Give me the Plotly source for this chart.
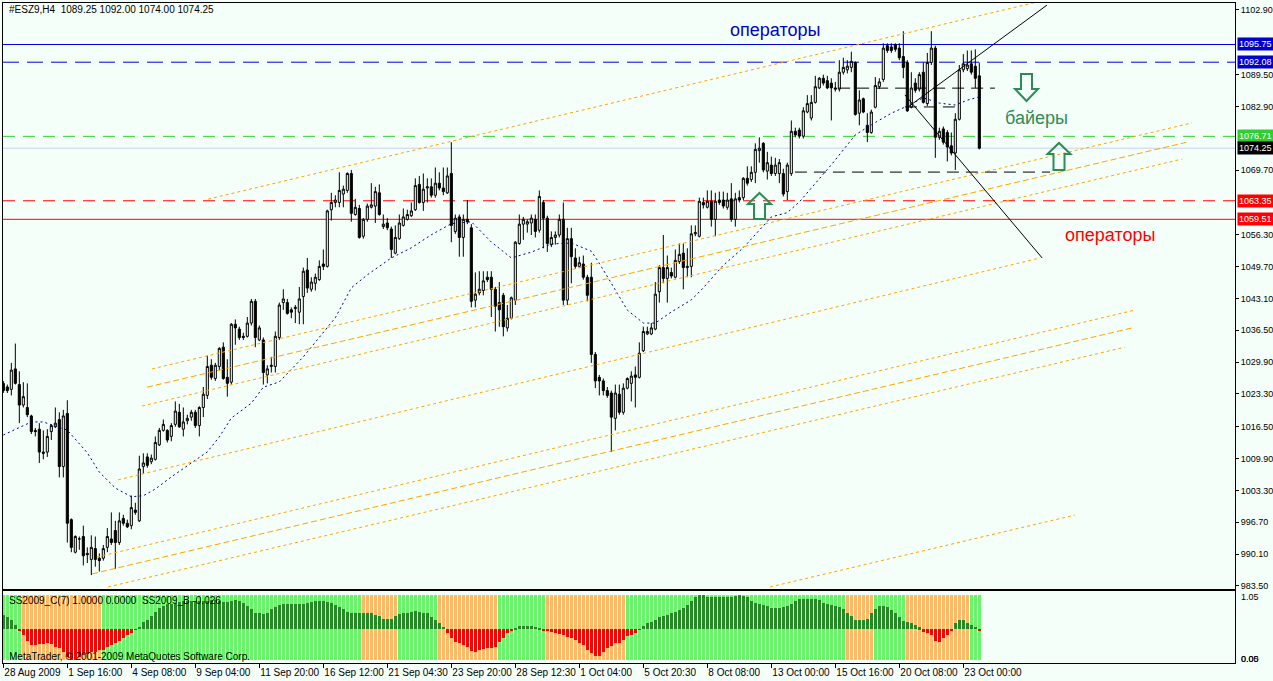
import plotly.graph_objects as go

# --- page geometry (px) used only to place frames, labels and glyphs ---
W, H = 1273, 681
L_PX, R_PX = 3, 1235
T_PX, B_PX = 3, 664
MAIN_BOTTOM_PX = 589
IND_TOP_PX, IND_BOTTOM_PX = 591, 663

BG = '#F5FFFA'
FONT = 'Liberation Sans'


def px_x(px):
    return (px - L_PX) / (R_PX - L_PX)


def px_y(py):
    return (B_PX - py) / (B_PX - T_PX)


# --- price data, #ESZ9 H4, bar 0 = 28 Aug 2009 ---
opens = [
    1025.5, 1024.75, 1024.25, 1028.5, 1025.25, 1021.0, 1020.5, 1018.75, 1015.75, 1016.0,
    1011.25, 1011.25, 1015.5, 1016.5, 1018.0, 1008.25, 1019.25, 997.25, 990.5, 993.25,
    993.75, 990.25, 989.0, 991.25, 989.25, 989.25, 991.5, 993.25, 995.0, 992.5,
    997.5, 996.5, 996.0, 999.25, 997.0, 1008.25, 1010.25, 1009.25, 1009.75, 1012.75,
    1015.75, 1015.75, 1014.5, 1017.0, 1019.5, 1016.0, 1017.75, 1018.5, 1019.5, 1016.75,
    1020.5, 1023.0, 1029.25, 1026.5, 1029.0, 1033.0, 1026.75, 1025.75, 1037.75, 1036.75,
    1035.25, 1035.25, 1038.0, 1042.5, 1034.5, 1034.5, 1027.25, 1029.0, 1029.0, 1035.0,
    1042.25, 1042.25, 1040.75, 1041.0, 1040.25, 1043.5, 1049.0, 1045.0, 1046.25, 1047.0,
    1050.25, 1049.75, 1061.5, 1063.0, 1063.0, 1064.75, 1065.5, 1069.0, 1060.5, 1061.75,
    1056.0, 1059.5, 1062.0, 1062.25, 1065.0, 1058.0, 1058.75, 1057.5, 1052.5, 1055.5,
    1058.25, 1059.5, 1060.25, 1061.5, 1066.75, 1063.0, 1066.0, 1066.25, 1064.5, 1067.0,
    1066.0, 1065.0, 1069.0, 1057.0, 1060.0, 1055.75, 1059.5, 1057.75, 1042.75, 1044.25,
    1044.75, 1047.5, 1047.5, 1045.0, 1042.25, 1043.75, 1037.0, 1039.0, 1042.75, 1054.5,
    1058.5, 1058.5, 1058.75, 1059.5, 1057.25, 1063.0, 1059.75, 1054.25, 1055.75, 1056.25,
    1059.5, 1042.75, 1055.5, 1051.5, 1049.75, 1050.25, 1047.5, 1047.5, 1031.5, 1026.75,
    1026.0, 1024.0, 1023.5, 1018.25, 1023.25, 1019.5, 1024.5, 1025.5, 1027.25, 1026.75,
    1032.25, 1035.75, 1035.75, 1036.75, 1044.5, 1049.5, 1047.25, 1048.5, 1047.5, 1050.75,
    1052.5, 1049.5, 1049.75, 1056.5, 1056.0, 1063.0, 1062.0, 1063.25, 1059.5, 1063.5,
    1063.5, 1062.0, 1063.75, 1059.5, 1064.0, 1064.0, 1068.0, 1067.75, 1069.25, 1073.75,
    1075.25, 1069.5, 1070.75, 1069.0, 1069.0, 1069.0, 1065.25, 1069.0, 1077.75, 1078.0,
    1076.75, 1081.75, 1080.5, 1083.75, 1086.75, 1088.75, 1088.25, 1087.75, 1086.75, 1086.5,
    1090.0, 1090.5, 1091.0, 1092.0, 1081.5, 1084.5, 1079.0, 1077.5, 1082.75, 1087.0,
    1088.5, 1095.5, 1095.25, 1095.75, 1095.0, 1093.25, 1092.0, 1082.75, 1087.75, 1086.5,
    1090.0, 1083.5, 1092.0, 1095.0, 1076.5, 1078.25, 1077.5, 1074.75, 1073.25, 1080.25,
    1090.5, 1090.75, 1091.75, 1091.25, 1089.25,
]
highs = [
    1026.0, 1025.25, 1029.75, 1033.75, 1028.0, 1025.75, 1025.5, 1019.0, 1016.25, 1017.25,
    1015.75, 1016.0, 1017.0, 1020.5, 1019.5, 1020.0, 1022.0, 997.5, 994.0, 993.75,
    996.0, 991.5, 994.0, 993.75, 990.25, 992.0, 995.5, 998.75, 997.0, 998.75,
    998.25, 997.25, 1002.25, 1000.75, 1010.5, 1011.0, 1011.0, 1010.75, 1014.5, 1016.25,
    1018.0, 1016.0, 1017.25, 1021.75, 1021.25, 1020.5, 1019.0, 1020.0, 1020.0, 1020.75,
    1024.75, 1031.25, 1030.5, 1029.75, 1033.0, 1034.0, 1030.5, 1038.0, 1038.75, 1037.25,
    1036.0, 1039.25, 1043.0, 1043.0, 1037.5, 1035.0, 1029.25, 1031.0, 1036.25, 1042.25,
    1045.0, 1043.0, 1041.25, 1041.75, 1045.5, 1049.5, 1051.5, 1047.5, 1048.25, 1051.0,
    1053.25, 1061.5, 1065.0, 1064.5, 1069.25, 1066.5, 1069.25, 1069.75, 1063.75, 1062.5,
    1059.75, 1062.75, 1067.0, 1066.25, 1066.75, 1060.5, 1059.75, 1058.0, 1058.25, 1060.5,
    1061.75, 1061.5, 1063.0, 1068.0, 1068.5, 1069.0, 1068.0, 1068.0, 1070.25, 1069.25,
    1070.25, 1070.25, 1075.5, 1060.5, 1060.5, 1060.5, 1063.5, 1058.5, 1048.5, 1048.75,
    1048.75, 1048.75, 1048.75, 1045.5, 1046.5, 1044.25, 1041.75, 1043.5, 1055.0, 1060.5,
    1060.0, 1059.5, 1060.5, 1060.5, 1065.5, 1063.5, 1060.25, 1057.0, 1057.0, 1060.5,
    1063.0, 1057.75, 1057.75, 1053.5, 1051.75, 1052.0, 1048.0, 1050.5, 1032.0, 1027.25,
    1026.5, 1024.75, 1024.0, 1025.25, 1025.25, 1025.5, 1026.75, 1028.0, 1029.0, 1034.0,
    1037.25, 1037.25, 1038.0, 1046.5, 1050.0, 1056.25, 1052.0, 1049.5, 1053.25, 1054.5,
    1054.5, 1053.5, 1058.25, 1058.25, 1064.0, 1064.0, 1065.5, 1065.5, 1065.0, 1065.25,
    1065.25, 1065.0, 1067.0, 1065.0, 1065.5, 1068.25, 1070.5, 1070.5, 1075.25, 1076.5,
    1075.5, 1073.5, 1072.5, 1072.25, 1072.0, 1070.0, 1071.25, 1080.0, 1078.5, 1078.5,
    1082.75, 1085.25, 1085.25, 1089.25, 1089.0, 1089.5, 1089.25, 1088.75, 1088.0, 1092.5,
    1093.0, 1092.5, 1094.25, 1092.25, 1086.25, 1084.75, 1081.5, 1082.25, 1089.0, 1088.75,
    1096.0, 1096.0, 1096.0, 1096.0, 1096.0, 1098.5, 1092.5, 1090.0, 1088.75, 1090.0,
    1092.0, 1094.0, 1098.5, 1095.5, 1078.5, 1078.75, 1078.0, 1077.5, 1081.5, 1091.5,
    1093.75, 1094.5, 1094.5, 1094.75, 1092.0,
]
lows = [
    1023.5, 1023.5, 1023.0, 1025.25, 1017.25, 1020.5, 1018.5, 1015.0, 1014.5, 1009.0,
    1009.75, 1010.25, 1013.75, 1016.25, 1006.0, 1006.0, 992.5, 990.5, 990.25, 991.0,
    987.75, 988.25, 985.75, 987.5, 986.5, 988.75, 990.5, 992.0, 987.0, 992.0,
    996.0, 995.5, 995.25, 998.25, 996.75, 1006.75, 1008.0, 1008.75, 1009.5, 1012.5,
    1015.5, 1013.25, 1013.5, 1016.5, 1016.25, 1014.5, 1017.0, 1017.75, 1016.25, 1014.5,
    1018.5, 1022.25, 1026.25, 1026.0, 1028.25, 1026.25, 1022.75, 1025.25, 1033.5, 1034.5,
    1034.5, 1035.0, 1037.5, 1033.0, 1034.25, 1025.25, 1025.5, 1027.75, 1027.75, 1034.5,
    1040.75, 1039.75, 1039.0, 1038.0, 1037.75, 1037.75, 1044.25, 1044.5, 1044.75, 1046.75,
    1049.0, 1049.5, 1059.25, 1062.0, 1062.0, 1062.0, 1065.0, 1059.0, 1060.25, 1055.5,
    1055.5, 1059.0, 1061.75, 1058.75, 1060.25, 1057.5, 1057.25, 1051.5, 1052.25, 1055.25,
    1058.0, 1059.25, 1060.0, 1061.25, 1062.75, 1061.25, 1063.0, 1064.0, 1064.0, 1065.5,
    1064.5, 1064.75, 1054.75, 1056.5, 1051.75, 1051.75, 1058.5, 1041.25, 1041.25, 1043.75,
    1043.75, 1046.5, 1039.25, 1036.25, 1037.25, 1035.25, 1036.25, 1038.75, 1041.75, 1054.25,
    1055.25, 1056.75, 1056.25, 1055.75, 1056.75, 1053.5, 1052.75, 1053.75, 1054.25, 1055.75,
    1041.75, 1041.75, 1046.25, 1049.25, 1049.5, 1047.0, 1042.5, 1029.75, 1024.5, 1023.0,
    1023.0, 1022.5, 1011.25, 1015.75, 1019.0, 1019.0, 1024.25, 1021.75, 1020.5, 1026.5,
    1032.0, 1035.5, 1035.5, 1036.5, 1042.25, 1046.25, 1042.25, 1047.25, 1047.25, 1050.25,
    1045.0, 1047.5, 1047.5, 1056.0, 1055.75, 1061.75, 1061.75, 1058.0, 1056.0, 1062.5,
    1061.75, 1061.5, 1059.0, 1058.0, 1063.0, 1063.5, 1066.5, 1067.25, 1067.0, 1071.25,
    1069.25, 1067.75, 1068.5, 1068.5, 1067.0, 1064.25, 1063.5, 1068.5, 1076.5, 1076.25,
    1076.25, 1081.5, 1080.0, 1083.5, 1086.5, 1087.25, 1086.5, 1080.0, 1086.0, 1086.0,
    1089.5, 1089.75, 1090.0, 1081.0, 1079.0, 1081.5, 1075.5, 1077.25, 1082.5, 1086.5,
    1088.0, 1094.0, 1094.0, 1094.25, 1092.5, 1088.75, 1081.75, 1082.5, 1085.75, 1086.0,
    1083.5, 1083.0, 1091.5, 1072.25, 1076.0, 1075.0, 1071.5, 1072.75, 1069.75, 1080.0,
    1090.0, 1090.25, 1089.5, 1086.75, 1074.0,
]
closes = [
    1024.0, 1024.0, 1028.25, 1025.5, 1021.0, 1022.75, 1019.0, 1015.5, 1015.5, 1011.25,
    1011.0, 1014.5, 1016.75, 1017.25, 1008.25, 1018.75, 996.5, 991.5, 993.75, 993.25,
    989.75, 990.0, 991.5, 989.0, 988.75, 991.25, 993.75, 992.5, 992.5, 997.0,
    996.5, 995.75, 999.75, 998.75, 1007.75, 1009.0, 1008.5, 1010.0, 1013.25, 1015.75,
    1017.0, 1013.75, 1016.75, 1019.75, 1016.5, 1017.5, 1018.25, 1019.5, 1016.75, 1020.5,
    1023.25, 1029.0, 1026.75, 1029.25, 1032.75, 1026.5, 1025.5, 1037.75, 1037.0, 1035.0,
    1035.0, 1038.0, 1042.5, 1035.0, 1037.0, 1027.75, 1028.5, 1029.25, 1035.25, 1041.75,
    1043.0, 1040.0, 1040.25, 1041.25, 1043.0, 1048.75, 1045.25, 1046.5, 1047.5, 1049.75,
    1049.75, 1061.25, 1063.0, 1063.5, 1065.5, 1065.75, 1069.0, 1060.75, 1062.0, 1055.75,
    1059.5, 1062.25, 1062.5, 1065.25, 1060.5, 1058.5, 1057.75, 1053.25, 1055.75, 1058.75,
    1060.0, 1060.5, 1061.25, 1066.5, 1063.0, 1065.75, 1066.25, 1064.5, 1067.0, 1066.0,
    1065.25, 1068.5, 1058.25, 1059.75, 1055.75, 1059.5, 1059.0, 1042.5, 1044.0, 1045.0,
    1046.75, 1047.0, 1045.0, 1041.5, 1040.75, 1037.25, 1039.0, 1043.25, 1054.75, 1058.5,
    1059.5, 1059.0, 1059.75, 1057.0, 1064.25, 1059.75, 1054.5, 1055.75, 1056.25, 1059.5,
    1042.75, 1055.5, 1051.75, 1049.75, 1050.5, 1047.5, 1043.75, 1031.5, 1026.0, 1026.0,
    1024.0, 1023.0, 1018.5, 1023.5, 1019.5, 1024.5, 1026.5, 1027.0, 1026.75, 1031.75,
    1036.25, 1036.25, 1037.0, 1044.0, 1049.5, 1047.25, 1049.5, 1047.75, 1051.0, 1052.25,
    1049.5, 1049.75, 1056.5, 1056.75, 1063.25, 1062.5, 1063.25, 1059.5, 1063.25, 1063.0,
    1062.25, 1063.5, 1059.5, 1063.75, 1063.5, 1068.0, 1067.0, 1069.25, 1074.0, 1074.25,
    1069.75, 1071.25, 1069.0, 1070.75, 1071.25, 1064.75, 1070.75, 1077.75, 1077.0, 1076.75,
    1082.0, 1083.5, 1083.75, 1087.0, 1088.75, 1087.75, 1086.75, 1086.75, 1086.5, 1090.0,
    1091.0, 1091.25, 1092.25, 1081.25, 1084.25, 1081.75, 1077.5, 1081.75, 1087.25, 1088.0,
    1095.0, 1094.5, 1094.5, 1094.75, 1093.0, 1091.0, 1082.0, 1086.75, 1086.25, 1089.5,
    1083.75, 1092.0, 1095.0, 1076.5, 1077.75, 1075.5, 1074.5, 1073.25, 1080.25, 1090.5,
    1091.75, 1091.5, 1090.0, 1088.75, 1074.25,
]
bars = list(range(len(closes)))

# dotted moving average (bar index, price)
ma_bars = [0, 7, 10, 16, 21, 24, 28, 32, 35, 38, 42, 47, 51, 54, 57, 62, 65, 69, 75, 83,
           87, 91, 97, 102, 107, 112, 117, 122, 127, 132, 137, 142, 147, 149, 153, 156, 160,
           163, 167, 172, 175, 180, 185, 189, 192, 196, 199, 207, 213, 217, 222, 226, 230,
           234, 238, 241, 244]
ma_vals = [1014.8, 1017.5, 1017.5, 1015.8, 1011.1, 1007.1, 1003.8, 1002.0, 1002.2, 1003.6,
           1006.1, 1009.0, 1011.3, 1014.4, 1018.3, 1021.4, 1024.7, 1025.8, 1031.0, 1039.1,
           1045.3, 1048.0, 1051.5, 1053.6, 1056.3, 1058.6, 1059.0, 1054.8, 1051.5, 1052.7,
           1054.4, 1054.6, 1052.9, 1050.4, 1044.9, 1040.7, 1038.0, 1038.0, 1040.3, 1042.8,
           1045.3, 1050.0, 1053.6, 1057.3, 1060.0, 1060.9, 1063.1, 1070.8, 1077.0, 1079.1,
           1081.5, 1083.0, 1084.7, 1083.6, 1083.2, 1084.2, 1084.9]

# orange channel lines: start/end (bar index, price)
chan_bar0 = [51.2, 37.2, 35.9, 34.7, 28.7, 22.2, 23.4, 26.2, 191.7]
chan_price0 = [1063.7, 1028.5, 1024.7, 1020.8, 1005.5, 986.0, 989.5, 983.3, 983.3]
chan_bar1 = [259.2, 297.2, 295.9, 294.7, 259.2, 282.2, 282.9, 280.4, 267.9]
chan_price1 = [1104.7, 1079.5, 1075.5, 1072.0, 1051.5, 1037.0, 1040.7, 1033.0, 998.2]

# black trend lines
trend_bar0 = [226.2, 225.4]
trend_price0 = [1082.8, 1085.3]
trend_bar1 = [260.9, 259.7]
trend_price1 = [1103.9, 1051.5]

# short black dashed levels
seg_price = [1086.7, 1069.3, 1082.8]
seg_bar0 = [208.7, 197.9, 225.4]
seg_bar1 = [247.9, 261.7, 238.0]

# full width levels
level_prices = [1095.75, 1092.08, 1076.71, 1074.25, 1063.35, 1059.51]

price_ticks = [1102.90, 1089.50, 1082.90, 1069.70, 1056.30, 1049.70, 1043.10, 1036.50,
               1029.90, 1023.30, 1016.50, 1009.90, 1003.30, 996.70, 990.10, 983.50]

time_tick_bars = [0, 16, 32, 48, 64, 80, 96, 112, 128, 144, 160, 176, 192, 208, 224, 240]
time_tick_labels = ['28 Aug 2009', '1 Sep 16:00', '4 Sep 08:00', '9 Sep 04:00',
                    '11 Sep 20:00', '16 Sep 12:00', '21 Sep 04:30', '23 Sep 20:00',
                    '28 Sep 12:30', '1 Oct 04:00', '5 Oct 20:30', '8 Oct 08:00',
                    '13 Oct 00:00', '15 Oct 16:00', '20 Oct 08:00', '23 Oct 00:00']

# SS2009 indicator histogram
ind_values = [
    0.41, 0.36, 0.26, 0.12, -0.05, -0.18, -0.34, -0.47, -0.47, -0.44,
    -0.45, -0.42, -0.44, -0.52, -0.57, -0.67, -0.83, -0.91, -0.91, -0.83,
    -0.76, -0.74, -0.67, -0.67, -0.62, -0.62, -0.52, -0.47, -0.40, -0.35,
    -0.25, -0.18, -0.11, -0.01, 0.07, 0.20, 0.28, 0.38, 0.51, 0.61,
    0.68, 0.74, 0.75, 0.77, 0.80, 0.82, 0.83, 0.83, 0.83, 0.83,
    0.83, 0.83, 0.85, 0.85, 0.83, 0.80, 0.80, 0.83, 0.85, 0.83,
    0.77, 0.68, 0.58, 0.48, 0.46, 0.44, 0.48, 0.58, 0.66, 0.71,
    0.74, 0.74, 0.74, 0.74, 0.75, 0.75, 0.77, 0.80, 0.82, 0.82,
    0.82, 0.80, 0.77, 0.71, 0.66, 0.58, 0.51, 0.48, 0.46, 0.46,
    0.46, 0.46, 0.46, 0.41, 0.38, 0.31, 0.31, 0.31, 0.38, 0.44,
    0.46, 0.46, 0.51, 0.54, 0.51, 0.46, 0.46, 0.36, 0.28, 0.19,
    0.07, -0.13, -0.27, -0.37, -0.42, -0.47, -0.52, -0.64, -0.67, -0.62,
    -0.60, -0.57, -0.57, -0.52, -0.37, -0.27, -0.13, -0.03, 0.04, 0.09,
    0.09, 0.09, 0.09, 0.07, 0.04, -0.03, -0.05, -0.08, -0.13, -0.15,
    -0.18, -0.23, -0.25, -0.32, -0.40, -0.47, -0.62, -0.70, -0.79, -0.79,
    -0.67, -0.57, -0.50, -0.42, -0.40, -0.32, -0.21, -0.18, -0.13, -0.01,
    0.09, 0.17, 0.22, 0.28, 0.34, 0.38, 0.41, 0.46, 0.51, 0.56,
    0.61, 0.71, 0.83, 0.95, 1.00, 1.00, 0.93, 0.93, 0.95, 0.95,
    0.95, 0.95, 0.95, 0.97, 1.00, 0.97, 0.93, 0.83, 0.77, 0.75,
    0.71, 0.68, 0.61, 0.61, 0.61, 0.66, 0.68, 0.75, 0.83, 0.87,
    0.87, 0.87, 0.87, 0.87, 0.85, 0.77, 0.74, 0.71, 0.68, 0.64,
    0.58, 0.46, 0.38, 0.28, 0.28, 0.28, 0.31, 0.46, 0.58, 0.68,
    0.68, 0.64, 0.56, 0.48, 0.36, 0.25, 0.22, 0.17, 0.12, 0.05,
    -0.08, -0.11, -0.18, -0.34, -0.37, -0.27, -0.18, -0.03, 0.17, 0.26,
    0.26, 0.19, 0.12, 0.07, -0.03,
]
# background state runs (alternating, starting with "up")
ind_bg_runs = [5, 20, 65, 9, 10, 15, 12, 20, 55, 7, 8, 16, 3]
IND_COL_TOP, IND_COL_BOTTOM = 1.0, -0.91

fig = go.Figure()

fig.add_trace(go.Candlestick(
    x=bars, open=opens, high=highs, low=lows, close=closes,
    increasing=dict(line=dict(color='black', width=1), fillcolor=BG),
    decreasing=dict(line=dict(color='black', width=1), fillcolor='black'),
    whiskerwidth=0, showlegend=False, hoverinfo='skip',
))

fig.add_trace(go.Scatter(
    x=ma_bars, y=ma_vals, mode='lines', showlegend=False, hoverinfo='skip',
    line=dict(color='#000080', width=1, dash='2px,3px'),
))

# channel lines, index 2 and 5 are the denser dashed ones
for k in range(len(chan_bar0)):
    dash = '6px,3px' if k in (2, 5) else '3px,3px'
    fig.add_trace(go.Scatter(
        x=[chan_bar0[k], chan_bar1[k]], y=[chan_price0[k], chan_price1[k]],
        mode='lines', showlegend=False, hoverinfo='skip',
        line=dict(color='#FFA500', width=1, dash=dash),
    ))

# indicator panel
bg_cols = []
for n, run in enumerate(ind_bg_runs):
    bg_cols += ['#66F566' if n % 2 == 0 else '#FFB866'] * run

fig.add_trace(go.Bar(
    x=bars, y=[IND_COL_TOP - IND_COL_BOTTOM] * len(bars), base=IND_COL_BOTTOM,
    marker=dict(color=bg_cols, line=dict(width=0)), width=0.75,
    xaxis='x2', yaxis='y2', showlegend=False, hoverinfo='skip',
))
fig.add_trace(go.Bar(
    x=bars, y=ind_values,
    marker=dict(color=['#228B22' if v >= 0 else '#FF0000' for v in ind_values],
                line=dict(width=0)),
    width=0.75, xaxis='x2', yaxis='y2', showlegend=False, hoverinfo='skip',
))

shapes = []
level_styles = [
    ('#0000DD', 'solid'), ('#0000DD', '16px,8px'), ('#32CD32', '12px,8px'),
    ('#C8D0F0', 'solid'), ('#FF0000', '12px,8px'), ('#FF0000', 'solid'),
]
for price, (col, dash) in zip(level_prices, level_styles):
    shapes.append(dict(type='line', xref='paper', yref='y', x0=0, x1=1, y0=price, y1=price,
                       line=dict(color=col, width=1, dash=dash), layer='below'))

for k in range(len(seg_price)):
    shapes.append(dict(type='line', xref='x', yref='y', x0=seg_bar0[k], x1=seg_bar1[k],
                       y0=seg_price[k], y1=seg_price[k],
                       line=dict(color='black', width=1, dash='12px,7px')))

for k in range(len(trend_bar0)):
    shapes.append(dict(type='line', xref='x', yref='y', x0=trend_bar0[k], x1=trend_bar1[k],
                       y0=trend_price0[k], y1=trend_price1[k],
                       line=dict(color='black', width=1)))


def arrow(cx, tail, base, tip, head=11.5, shaft=5.5):
    pts = [(cx - shaft, tail), (cx + shaft, tail), (cx + shaft, base), (cx + head, base),
           (cx, tip), (cx - head, base), (cx - shaft, base)]
    path = 'M ' + ' L '.join(f'{px_x(a):.5f},{px_y(b):.5f}' for a, b in pts) + ' Z'
    return dict(type='path', xref='paper', yref='paper', path=path,
                line=dict(color='#2E8B57', width=2), fillcolor='rgba(0,0,0,0)')


shapes += [arrow(1026.5, 74, 89, 101), arrow(1059, 170, 154, 143), arrow(759.5, 219, 204, 193)]

annotations = []


def text_at(px, py, text, size=10, color='black', anchor='left'):
    annotations.append(dict(x=px_x(px), y=px_y(py), xref='paper', yref='paper', text=text,
                            showarrow=False, xanchor=anchor, yanchor='middle',
                            font=dict(size=size, color=color, family=FONT)))


text_at(7, 10, '#ESZ9,H4  1089.25 1092.00 1074.00 1074.25')
text_at(7, 600, 'SS2009_C(7) 1.0000 0.0000  SS2009_B -0.026')
text_at(7, 656, 'MetaTrader, © 2001-2009 MetaQuotes Software Corp.')
text_at(775, 30, 'операторы', size=18, color='#0000CD', anchor='center')
text_at(1036, 118, 'байеры', size=18, color='#2E8B57', anchor='center')
text_at(1110, 235, 'операторы', size=18, color='#FF0000', anchor='center')
text_at(1239, 597, '1.05', size=9)
text_at(1239, 659, '0.00', size=9)
text_at(1239, 659, '0.05', size=9)

label_cols = ['#0000CD', '#0000CD', '#32CD32', 'black', '#FF0000', '#FF0000']
for price, col in zip(level_prices, label_cols):
    annotations.append(dict(x=px_x(1237), y=price, xref='paper', yref='y',
                            text=f'{price:.2f}', showarrow=False, xanchor='left',
                            yanchor='middle', bgcolor=col, borderpad=1, width=33,
                            align='left', font=dict(size=9, color='white', family=FONT)))

axis_common = dict(showline=True, mirror=True, linecolor='black', linewidth=1,
                   showgrid=False, zeroline=False, fixedrange=True, automargin=False)

fig.update_layout(
    width=W, height=H,
    margin=dict(l=L_PX, r=W - R_PX, t=T_PX, b=H - B_PX),
    paper_bgcolor=BG, plot_bgcolor=BG,
    font=dict(family=FONT, size=10, color='black'),
    barmode='overlay', bargap=0, boxgap=0.25,
    showlegend=False,
    xaxis=dict(domain=[0, 1], anchor='y', range=[-0.08, 307.92], showticklabels=False,
               rangeslider=dict(visible=False), **axis_common),
    yaxis=dict(domain=[px_y(MAIN_BOTTOM_PX), 1], anchor='x', range=[982.87, 1104.35],
               side='right', tickvals=price_ticks, ticktext=[f'{v:.2f}' for v in price_ticks],
               ticks='outside', ticklen=3, tickcolor='black',
               tickfont=dict(size=9, family=FONT), **axis_common),
    xaxis2=dict(domain=[0, 1], anchor='y2', matches='x', tickvals=time_tick_bars,
                ticktext=time_tick_labels, ticks='outside', ticklen=4, tickcolor='black',
                tickangle=0, ticklabelposition='outside right',
                tickfont=dict(size=10, family=FONT), **axis_common),
    yaxis2=dict(domain=[px_y(IND_BOTTOM_PX), px_y(IND_TOP_PX)], anchor='x2',
                range=[-1.0, 1.12], side='right', showticklabels=False, **axis_common),
    shapes=shapes,
    annotations=annotations,
)

fig.write_html('out.html', config={'displayModeBar': False},
               post_script="document.body.style.margin='0';")
